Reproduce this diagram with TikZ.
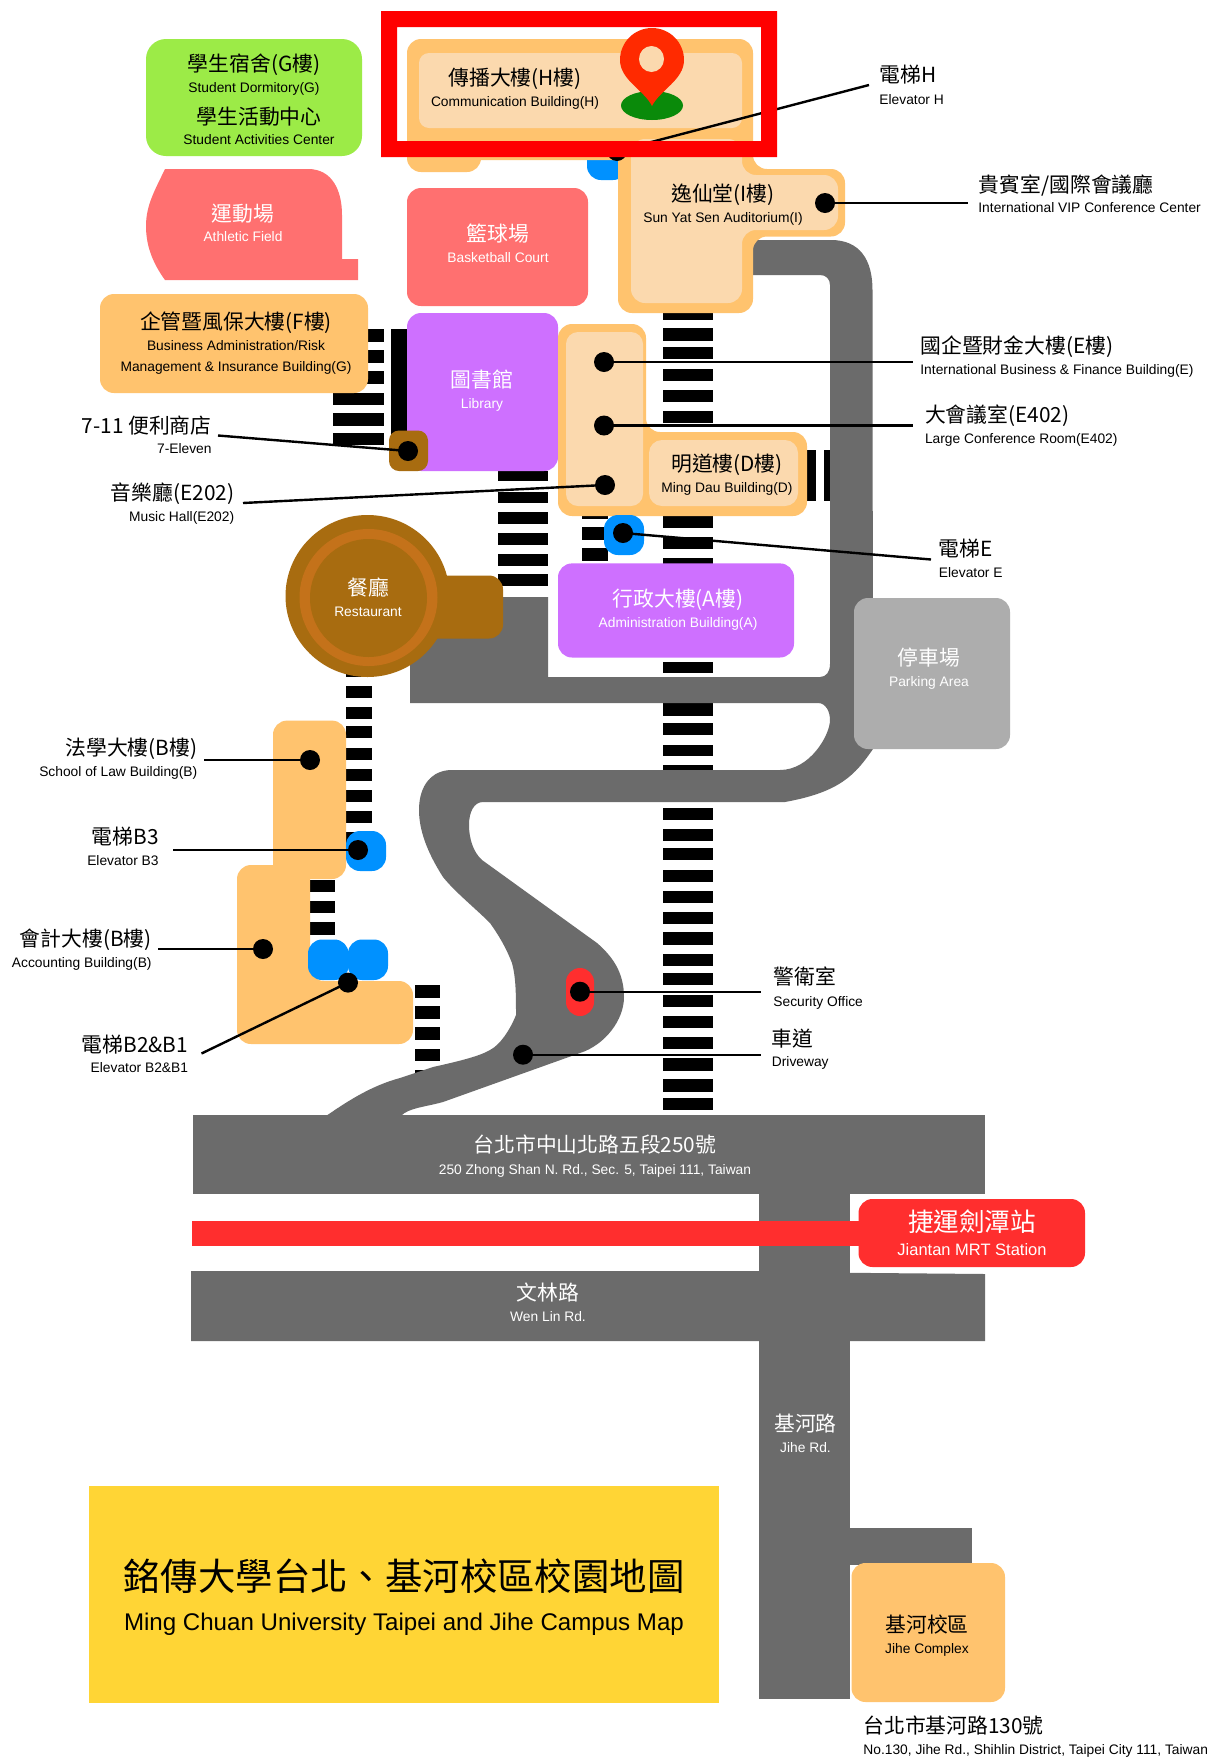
\documentclass[tikz,border=0pt]{standalone}
\usepackage{fontspec}
\setmainfont{Liberation Sans}
\newfontfamily\cjkf{Noto Sans CJK TC}
\definecolor{orangeb}{HTML}{FFC36E}
\definecolor{creamb}{HTML}{FBD9AE}
\definecolor{roadg}{HTML}{6B6B6B}
\definecolor{pinkb}{HTML}{FF7070}
\definecolor{purpb}{HTML}{CE70FF}
\definecolor{brownb}{HTML}{A86C10}
\definecolor{ringb}{HTML}{C4721A}
\definecolor{blueb}{HTML}{0091FF}
\definecolor{greenb}{HTML}{9CEB47}
\definecolor{redb}{HTML}{FF2E2E}
\definecolor{yellowb}{HTML}{FFD535}
\definecolor{parkg}{HTML}{ADADAD}
\definecolor{pinred}{HTML}{FF2A00}
\definecolor{pingreen}{HTML}{0A8A0A}
\tikzset{
  zh/.style={font=\cjkf\fontsize{10.4}{12}\selectfont,inner sep=0pt,text height=9.2pt,text depth=1.7pt},
  en/.style={font=\fontsize{6.9}{8}\selectfont,inner sep=0pt,text height=5.4pt,text depth=0.9pt},
  dotn/.style={circle,fill=black,inner sep=0pt,minimum size=10pt},
  leader/.style={draw=black,line width=1.2pt},
  blockk/.style={fill=black},
  rc/.style={rounded corners=7pt},
  rcs/.style={rounded corners=5pt}
}
\begin{document}
\begin{tikzpicture}[x=0.5pt,y=-0.5pt]
\useasboundingbox (0,0) rectangle (1206,1757);
\fill[white] (0,0) rectangle (1206,1757);
% stair stripes
\foreach \a/\b in {313/319.5,328/340.6,347/359,369/381,390/402,411/423,515.5/528,537/549,557.6/565,662/673,703/715.6,722.6/735,744.6/756,765/771,808/820,829/841,847.5/860,870/882,890.5/903.4,911.7/924,932/945,954/966,972.6/985,994.6/1007,1016/1028,1037/1049,1058/1070.5,1079/1091.6,1098/1110}
  \fill[blockk] (663,\a) rectangle (713,\b);
\foreach \a/\b in {471/481.4,492/503,512/524,533/545,554/566,574/585.5}
  \fill[blockk] (498,\a) rectangle (548,\b);
\foreach \a/\b in {515.5/518.5,527/540,548/560.6}
  \fill[blockk] (582,\a) rectangle (608,\b);
\foreach \a/\b in {329/342,350/363,371/384,393/405,413/425.5,432.5/445}
  \fill[blockk] (333,\a) rectangle (384,\b);
\fill[blockk] (391,329) rectangle (407,444);
\fill[blockk] (807,450) rectangle (816,501);
\fill[blockk] (824,450) rectangle (830,501);
\foreach \a/\b in {674/677,686/698,706.5/719,726/738,748/759.5,768.6/781,790/802,811/823,832/844}
  \fill[blockk] (346,\a) rectangle (371.5,\b);
\foreach \a/\b in {880/892,900.5/913,922/934.5}
  \fill[blockk] (310,\a) rectangle (335.4,\b);
\foreach \a/\b in {985/997.5,1006/1018.7,1027.4/1040,1048.5/1061,1070/1073}
  \fill[blockk] (415,\a) rectangle (440,\b);
% roads
\fill[roadg] (740,240) -- (831,240) .. controls (860,240) and (872.5,260) .. (872.5,290)
  -- (873,749) .. controls (855,775) and (840,792) .. (785,802)
  -- (483,802) .. controls (474,802) and (469,812) .. (469,825)
  .. controls (469,838) and (473,852) .. (482,860)
  -- (597,943) .. controls (612,956) and (624,972) .. (624,997)
  .. controls (624,1020) and (605,1045) .. (580,1053)
  -- (443,1102) .. controls (425,1107) and (408,1108) .. (401,1116)
  -- (326,1116) .. controls (345,1103) and (370,1086) .. (400,1078)
  -- (433,1067) .. controls (460,1061) and (480,1056) .. (490,1050)
  .. controls (500,1045) and (510,1030) .. (516,1015)
  .. controls (516,995) and (516,978) .. (512,963)
  .. controls (505,945) and (497,933) .. (490,923)
  .. controls (475,908) and (455,892) .. (443,877)
  .. controls (427,852) and (419,830) .. (419,810)
  .. controls (419,785) and (432,770) .. (452,770)
  -- (780,770) .. controls (810,770) and (830,735) .. (830,720)
  .. controls (830,712) and (826,703) .. (818,703)
  -- (410,703) -- (410,597) -- (548,597) -- (548,677) -- (820,677)
  .. controls (826,677) and (830,672) .. (830,664)
  -- (830,285) .. controls (830,279) and (826,275) .. (820,275)
  -- (740,275) -- cycle;
\fill[roadg] (192.5,1115) rectangle (985,1194);
\fill[roadg] (758.5,1190) rectangle (850,1699);
\fill[roadg] (191,1271) -- (758.5,1271) -- (850,1272.8) -- (985,1274) -- (985,1341) -- (191,1341) -- cycle;
\fill[roadg] (845,1528) rectangle (971.5,1565);
% MRT
\fill[redb] (192,1221) rectangle (870,1246);
\fill[redb,rc] (858.5,1199) rectangle (1085,1267);
% yellow title
\fill[yellowb] (89,1486) rectangle (718.5,1703);
% buildings
\fill[greenb,rounded corners=10pt] (146,39) rectangle (362,156);
\fill[pinkb] (165,169) -- (308,169) .. controls (332,169) and (342,190) .. (342,215) -- (342,259) -- (358,259) -- (358,280) -- (165,280) .. controls (152,262) and (146,245) .. (146,226) .. controls (146,205) and (155,190) .. (165,169) -- cycle;
\fill[pinkb,rc] (407,188) rectangle (588,306);
\fill[orangeb,rc] (100,294) rectangle (368,393);
\fill[purpb,rc] (407,313) rectangle (558,471);
\fill[brownb,rcs] (389,430.5) rectangle (428,471);
% H + I
\fill[orangeb,rounded corners=7pt] (407,130) rectangle (481,172);
\fill[blueb,rc] (587,140) rectangle (627,180);
\fill[orangeb,rc] (618,140) -- (618,313) -- (753,313) -- (753,236.5) -- (845,236.5) -- (845,169) -- (753,169) -- (753,140) -- cycle;
\fill[orangeb,rc] (407,39) rectangle (753,160);
\fill[creamb,rounded corners=5pt] (419,53) rectangle (742,128);
\fill[creamb,rounded corners=7pt] (631,139) -- (631,303) -- (742,303) -- (742,230) -- (838,230) -- (838,175) -- (742,175) -- (742,139) -- cycle;
% E + D
\fill[orangeb,rc] (558,324) -- (646,324) -- (646,432) -- (807,432) -- (807,516) -- (558,516) -- cycle;
\fill[creamb,rounded corners=6pt] (566,332) rectangle (643,506);
\fill[creamb,rounded corners=6.5pt] (649,440) rectangle (798,506);
\fill[blueb,rc] (604,515) rectangle (644,555);
\fill[purpb,rc] (558,563.4) rectangle (794,657.5);
\fill[parkg,rc] (854,598) rectangle (1010,749);
% restaurant
\fill[brownb,rc] (420,575.5) rectangle (503,638.5);
\fill[brownb] (367.5,596) circle[x radius=82,y radius=81];
\fill[ringb] (368.5,597.5) circle[x radius=69,y radius=68.5];
\fill[brownb] (368.5,598) circle[x radius=58.5,y radius=59];
% B buildings
\fill[orangeb,rounded corners=7pt] (273,720.6) rectangle (346,879);
\fill[blueb,rc] (346,831) rectangle (386,871);
\fill[orangeb,rounded corners=7pt] (237,865) -- (310,865) -- (310,981) -- (413,981) -- (413,1044) -- (237,1044) -- cycle;
\fill[blueb,rc] (308,939.5) rectangle (348.5,980);
\fill[blueb,rc] (348,939.5) rectangle (388,980);
\fill[redb,rounded corners=7pt] (566,968) rectangle (594,1016);
\fill[orangeb,rc] (851.5,1563) rectangle (1005,1702);
% dots
\node[dotn] (dH) at (617,151) {};
\node[dotn] (dVIP) at (825,203) {};
\node[dotn] (dE1) at (604,362) {};
\node[dotn] (dE2) at (604,425.5) {};
\node[dotn] (dE3) at (605,485) {};
\node[dotn] (d711) at (408,451) {};
\node[dotn] (dElE) at (623,533) {};
\node[dotn] (dLaw) at (310,760) {};
\node[dotn] (dB3) at (358,850) {};
\node[dotn] (dAcc) at (263,949) {};
\node[dotn] (dB2) at (348,982.6) {};
\node[dotn] (dSec) at (580,991.7) {};
\node[dotn] (dDrv) at (523,1054.7) {};
% free ends
\coordinate (eH) at (869,85);
\coordinate (eVIP) at (968,203);
\coordinate (eE1) at (913,362);
\coordinate (eE2) at (913,425.5);
\coordinate (eE3) at (243,503);
\coordinate (e711) at (218,435.5);
\coordinate (eElE) at (931,559.5);
\coordinate (eLaw) at (204,760);
\coordinate (eB3) at (173,850);
\coordinate (eAcc) at (158,949);
\coordinate (eB2) at (201.5,1053.5);
\coordinate (eSec) at (761,991.7);
\coordinate (eDrv) at (761,1054.7);
\foreach \d/\e in {dH/eH,dVIP/eVIP,dE1/eE1,dE2/eE2,dE3/eE3,d711/e711,dElE/eElE,dLaw/eLaw,dB3/eB3,dAcc/eAcc,dB2/eB2,dSec/eSec,dDrv/eDrv}
  \draw[leader] (\d.center) -- (\e);
% red frame
\fill[red,even odd rule] (381,11) rectangle (777,157) (397,27) rectangle (761,141);
% pin
\fill[pingreen] (652,105.5) ellipse[x radius=31,y radius=14.5];
\fill[pinred] (652,106) .. controls (644,90) and (620,80) .. (620,60) arc[start angle=180,end angle=360,radius=32] .. controls (684,80) and (660,90) .. (652,106) -- cycle;
\fill[creamb] (651.5,59) ellipse[x radius=12.5,y radius=13];
% building labels
\node[zh] (tG1) at (254,64) {學生宿舍(G樓)};
\node[en] (tG2) at (254,88) {Student Dormitory(G)};
\node[zh] (tG3) at (259,117) {學生活動中心};
\node[en] (tG4) at (259,140) {Student Activities Center};
\node[zh] (tH1) at (515,78) {傳播大樓(H樓)};
\node[en] (tH2) at (515,102) {Communication Building(H)};
\node[zh,white] (tAF1) at (243,213.5) {運動場};
\node[en,white] (tAF2) at (243,237) {Athletic Field};
\node[zh,white] (tBC1) at (498,234) {籃球場};
\node[en,white] (tBC2) at (498,257.5) {Basketball Court};
\node[zh] (tI1) at (723,194) {逸仙堂(I樓)};
\node[en] (tI2) at (723,218) {Sun Yat Sen Auditorium(I)};
\node[zh] (tF1) at (236,321.5) {企管暨風保大樓(F樓)};
\node[en] (tF2) at (236,346) {Business Administration/Risk};
\node[en] (tF3) at (236,366.6) {Management \& Insurance Building(G)};
\node[zh,white] (tL1) at (482,380) {圖書館};
\node[en,white] (tL2) at (482,404) {Library};
\node[zh] (tD1) at (727,464) {明道樓(D樓)};
\node[en] (tD2) at (727,488) {Ming Dau Building(D)};
\node[zh,white] (tA1) at (678,598.7) {行政大樓(A樓)};
\node[en,white] (tA2) at (678,622.7) {Administration Building(A)};
\node[zh,white] (tR1) at (368,588) {餐廳};
\node[en,white] (tR2) at (368,612) {Restaurant};
\node[zh,white] (tP1) at (929,658) {停車場};
\node[en,white] (tP2) at (929,682) {Parking Area};
% callout labels
\node[zh,anchor=west] (lH1) at (879,75) {電梯H};
\node[en,anchor=west] (lH2) at (879,99.5) {Elevator H};
\node[zh,anchor=west] (lV1) at (978.5,184.5) {貴賓室/國際會議廳};
\node[en,anchor=west] (lV2) at (978,208) {International VIP Conference Center};
\node[zh,anchor=west] (lE1) at (920,346) {國企暨財金大樓(E樓)};
\node[en,anchor=west] (lE2) at (920,370) {International Business \& Finance Building(E)};
\node[zh,anchor=west] (lC1) at (924.6,415) {大會議室(E402)};
\node[en,anchor=west] (lC2) at (924.6,438.6) {Large Conference Room(E402)};
\node[zh,anchor=east] (l71) at (212,425.5) {7-11 便利商店};
\node[en,anchor=east] (l72) at (212,449) {7-Eleven};
\node[zh,anchor=east] (lM1) at (234.6,493) {音樂廳(E202)};
\node[en,anchor=east] (lM2) at (234.6,517) {Music Hall(E202)};
\node[zh,anchor=west] (lEE1) at (938.5,549) {電梯E};
\node[en,anchor=west] (lEE2) at (938.5,573) {Elevator E};
\node[zh,anchor=east] (lLw1) at (197.7,748) {法學大樓(B樓)};
\node[en,anchor=east] (lLw2) at (197.7,772) {School of Law Building(B)};
\node[zh,anchor=east] (lB31) at (159,837) {電梯B3};
\node[en,anchor=east] (lB32) at (159,860.7) {Elevator B3};
\node[zh,anchor=east] (lAc1) at (152,938.6) {會計大樓(B樓)};
\node[en,anchor=east] (lAc2) at (152,963) {Accounting Building(B)};
\node[zh,anchor=east] (lB21) at (188.5,1045) {電梯B2\&B1};
\node[en,anchor=east] (lB22) at (188.5,1068) {Elevator B2\&B1};
\node[zh,anchor=west] (lS1) at (773,977) {警衛室};
\node[en,anchor=west] (lS2) at (773,1001.7) {Security Office};
\node[zh,anchor=west] (lDr1) at (771.5,1039) {車道};
\node[en,anchor=west] (lDr2) at (771.5,1062) {Driveway};
% roads text
\node[zh,white] (rZ1) at (595,1145) {台北市中山北路五段250號};
\node[en,white] (rZ2) at (595,1169.5) {250 Zhong Shan N. Rd., Sec. 5, Taipei 111, Taiwan};
\node[zh,white,font=\cjkf\fontsize{12.8}{14}\selectfont,text height=11.3pt,text depth=2.1pt] (rM1) at (972,1222) {捷運劍潭站};
\node[en,white,font=\fontsize{8.25}{10}\selectfont,text height=6.4pt,text depth=1.1pt] (rM2) at (972,1250) {Jiantan MRT Station};
\node[zh,white] (rW1) at (548,1293) {文林路};
\node[en,white] (rW2) at (548,1317) {Wen Lin Rd.};
\node[zh,white] (rJ1) at (805.5,1424) {基河路};
\node[en,white] (rJ2) at (805.5,1448) {Jihe Rd.};
% title
\node[zh,font=\cjkf\fontsize{18.7}{20}\selectfont,text height=16.6pt,text depth=3pt] (tt1) at (404,1577) {銘傳大學台北、基河校區校園地圖};
\node[en,font=\fontsize{12.05}{14}\selectfont,text height=9.3pt,text depth=1.7pt] (tt2) at (404,1623) {Ming Chuan University Taipei and Jihe Campus Map};
% Jihe complex
\node[zh] (tJ1) at (927,1624.5) {基河校區};
\node[en] (tJ2) at (927,1649) {Jihe Complex};
\node[zh,anchor=west] (lA1) at (863,1726) {台北市基河路130號};
\node[en,anchor=west] (lA2) at (863,1750) {No.130, Jihe Rd., Shihlin District, Taipei City 111, Taiwan};
\end{tikzpicture}
\end{document}
